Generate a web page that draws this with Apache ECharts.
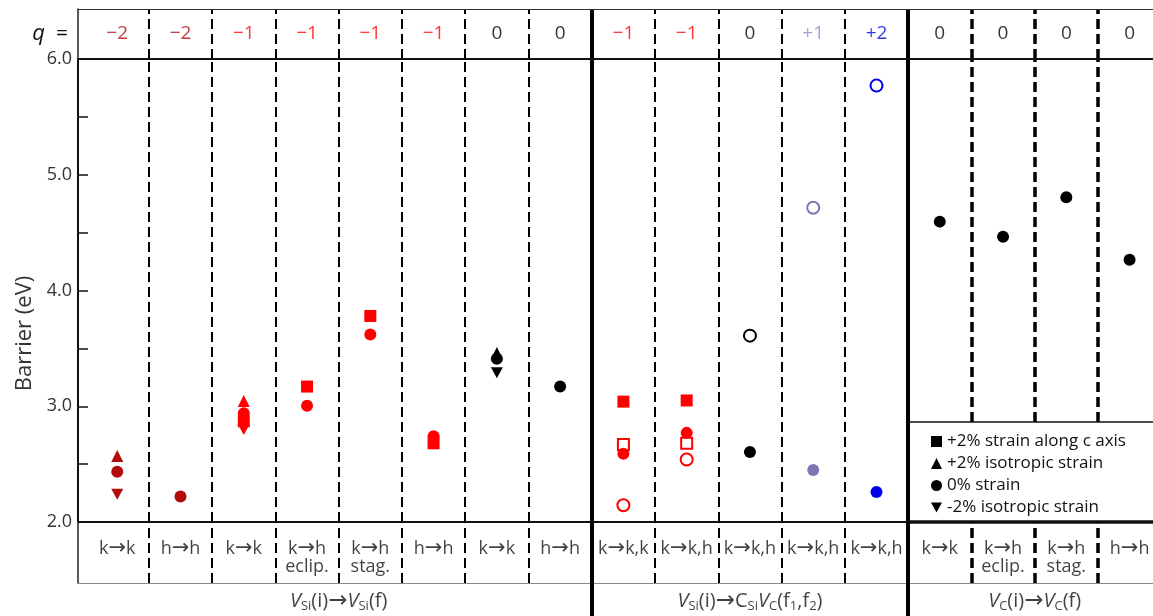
<!DOCTYPE html>
<html>
<head>
<meta charset="utf-8">
<title>Barrier</title>
<script src="https://cdn.jsdelivr.net/npm/echarts@6/dist/echarts.min.js"></script>
<style>
  html, body { margin: 0; padding: 0; background: #fff; }
  #main { width: 1153px; height: 616px; }
</style>
</head>
<body>
<div id="main"></div>
<script>
// one entry per column: charge state, its colour, transition label
const qLabels = ['−2', '−2', '−1', '−1', '−1', '−1', '0', '0', '−1', '−1', '0', '+1', '+2', '0', '0', '0', '0']
const colColors = ['#b30a0a', '#b30a0a', '#ff0000', '#ff0000', '#ff0000', '#ff0000', '#000', '#000',
  '#ff0000', '#ff0000', '#000', '#7f74b5', '#0000e6', '#000', '#000', '#000', '#000']
const qColors = ['#b30a0a', '#b30a0a', '#ff0000', '#ff0000', '#ff0000', '#ff0000', '#000', '#000',
  '#ff0000', '#ff0000', '#000', '#9189c4', '#0000e6', '#000', '#000', '#000', '#000']
const hopLabels = ['k{a|→}k', 'h{a|→}h', 'k{a|→}k', 'k{a|→}h\neclip.', 'k{a|→}h\nstag.', 'h{a|→}h', 'k{a|→}k', 'h{a|→}h',
  'k{a|→}k,k', 'k{a|→}k,h', 'k{a|→}k,h', 'k{a|→}k,h', 'k{a|→}k,h', 'k{a|→}k', 'k{a|→}h\neclip.', 'k{a|→}h\nstag.', 'h{a|→}h']

// groups of columns: [first, last, label]
const groups = [
  [0, 7, '{v|V}{s|Si}(i){a|→}{v|V}{s|Si}(f)'],
  [8, 12, '{v|V}{s|Si}(i){a|→}C{s|Si}{v|V}{s|C}(f{s|1},f{s|2})'],
  [13, 16, '{v|V}{s|C}(i){a|→}{v|V}{s|C}(f)']
]

// barriers (eV), [column, value]
const squareFilled = [[2, 2.87], [3, 3.17], [4, 3.78], [5, 2.68], [8, 3.04], [9, 3.05]]
const triUp = [[0, 2.57], [2, 3.045], [6, 3.46]]
const circleFilled = [[0, 2.435], [1, 2.22], [2, 2.94], [3, 3.005], [4, 3.62], [5, 2.74], [6, 3.41],
  [7, 3.17], [8, 2.59], [9, 2.77], [10, 2.605], [11, 2.45], [12, 2.26],
  [13, 4.595], [14, 4.465], [15, 4.805], [16, 4.265]]
const triDown = [[0, 2.24], [2, 2.80], [6, 3.29]]
const squareOpen = [[8, 2.67], [9, 2.68]]
const circleOpen = [[8, 2.145], [9, 2.54], [10, 3.61], [11, 4.715], [12, 5.77]]

const yTicks = [2, 3, 4, 5, 6]
const legendNames = ['+2% strain along c axis', '+2% isotropic strain', '0% strain', '-2% isotropic strain']

const FONT = '"Open Sans", "DejaVu Sans", sans-serif'
const X_MIN = -0.62
const X_MAX = 16.37
const LEGEND_TOP = 2.864
const TRI_DOWN = 'path://M0,0L10,0L5,9Z'

const groupStarts = groups.map(g => g[0])

function dividers (where) {
  const out = []
  for (let i = 0; i < qLabels.length - 1; i++) {
    const x = i + 0.5
    const thick = groupStarts.includes(i + 1)
    const last = i >= groups[2][0]
    if (where === 'group' && !thick) continue
    const lineStyle = thick
      ? { type: 'solid', width: 4, color: '#000' }
      : { type: [10, 5], width: last ? 3.5 : 2, color: '#000' }
    if (where === 'main' && last && !thick) {
      out.push([{ coord: [x, LEGEND_TOP], lineStyle }, { coord: [x, yTicks[yTicks.length - 1]] }])
    } else {
      out.push({ xAxis: x, lineStyle })
    }
  }
  return out
}

function markLines (data) {
  return { silent: true, symbol: ['none', 'none'], label: { show: false }, animation: false, data }
}

function points (arr) {
  return arr.map(([c, v]) => ({ value: [c, v], itemStyle: { color: colColors[c], opacity: 1 } }))
}

function openPoints (arr) {
  return arr.map(([c, v]) => ({
    value: [c, v],
    itemStyle: { color: 'rgba(0,0,0,0)', borderColor: colColors[c], borderWidth: 2, opacity: 1 }
  }))
}

const chart = echarts.init(document.getElementById('main'), null, { renderer: 'canvas' })

const xAxes = [0, 1, 2, 3].map(i => ({ type: 'value', gridIndex: i, min: X_MIN, max: X_MAX, show: false }))

const option = {
  animation: false,
  textStyle: { fontFamily: FONT },
  grid: [
    { left: 78, right: 0, top: 9, height: 50 },
    { left: 78, right: 0, top: 59, height: 463 },
    { left: 78, right: 0, top: 522, height: 61 },
    { left: 78, right: 0, top: 583, height: 33 }
  ],
  xAxis: xAxes,
  yAxis: [
    {
      type: 'value', gridIndex: 0, min: 0, max: 1,
      axisLine: { show: true, onZero: false, lineStyle: { color: '#222', width: 1.5 } },
      axisTick: { show: false }, axisLabel: { show: false }, splitLine: { show: false },
      name: '{i|q}  =', nameLocation: 'middle', nameRotate: 0, nameGap: 10,
      nameTextStyle: {
        align: 'right', fontSize: 21, color: '#111', fontFamily: FONT,
        rich: { i: { fontStyle: 'italic', fontSize: 22, fontFamily: FONT, color: '#111' } }
      }
    },
    {
      type: 'value', gridIndex: 1, min: yTicks[0], max: yTicks[yTicks.length - 1], interval: 1,
      axisLine: { show: true, onZero: false, lineStyle: { color: '#111', width: 2 } },
      axisTick: { show: true, inside: true, length: 10, lineStyle: { color: '#111', width: 1.5 } },
      minorTick: { show: true, splitNumber: 2, length: 10, lineStyle: { color: '#111', width: 1.5 } },
      axisLabel: { color: '#333', fontSize: 18, margin: 6, formatter: v => v.toFixed(1) },
      splitLine: { show: false },
      name: 'Barrier (eV)', nameLocation: 'middle', nameGap: 40,
      nameTextStyle: { fontSize: 22, color: '#333', fontFamily: FONT, padding: [0, 86, 0, 0] }
    },
    {
      type: 'value', gridIndex: 2, min: 0, max: 1,
      axisLine: { show: true, onZero: false, lineStyle: { color: '#222', width: 1.5 } },
      axisTick: { show: false }, axisLabel: { show: false }, splitLine: { show: false }
    },
    { type: 'value', gridIndex: 3, min: 0, max: 1, show: false }
  ],
  legend: {
    orient: 'vertical',
    left: 926,
    top: 428,
    padding: 5,
    itemWidth: 11,
    itemHeight: 11,
    itemGap: 5,
    selectedMode: false,
    textStyle: { fontSize: 17, color: '#111', fontFamily: FONT, lineHeight: 16 },
    data: [
      { name: legendNames[0], icon: 'rect' },
      { name: legendNames[1], icon: 'triangle' },
      { name: legendNames[2], icon: 'circle' },
      { name: legendNames[3], icon: TRI_DOWN }
    ]
  },
  series: [
    {
      type: 'scatter', xAxisIndex: 0, yAxisIndex: 0, symbolSize: 0, silent: true,
      data: qLabels.map((q, c) => ({
        value: [c, 0.5],
        label: { show: true, position: 'inside', formatter: q, fontSize: 19, color: qColors[c], fontFamily: FONT }
      })),
      markLine: markLines(dividers('top').concat([
        { yAxis: 1, lineStyle: { type: 'solid', width: 1.2, color: '#333' } }
      ]))
    },
    {
      name: legendNames[2], type: 'scatter', xAxisIndex: 1, yAxisIndex: 1,
      symbol: 'circle', symbolSize: 12, itemStyle: { color: '#000', opacity: 1 },
      data: points(circleFilled),
      markLine: markLines(dividers('main').concat([
        { yAxis: 6, lineStyle: { type: 'solid', width: 2, color: '#111' } },
        { yAxis: 2, lineStyle: { type: 'solid', width: 2, color: '#111' } },
        [{ coord: [12.5, LEGEND_TOP], lineStyle: { type: 'solid', width: 1.5, color: '#111' } }, { coord: [X_MAX, LEGEND_TOP] }],
        [{ coord: [12.5, 2], lineStyle: { type: 'solid', width: 3.5, color: '#111' } }, { coord: [X_MAX, 2] }]
      ]))
    },
    {
      name: legendNames[0], type: 'scatter', xAxisIndex: 1, yAxisIndex: 1,
      symbol: 'rect', symbolSize: 12, itemStyle: { color: '#000', opacity: 1 },
      data: points(squareFilled)
    },
    {
      name: legendNames[1], type: 'scatter', xAxisIndex: 1, yAxisIndex: 1,
      symbol: 'triangle', symbolSize: 12, itemStyle: { color: '#000', opacity: 1 },
      data: points(triUp)
    },
    {
      name: legendNames[3], type: 'scatter', xAxisIndex: 1, yAxisIndex: 1,
      symbol: TRI_DOWN, symbolSize: [12, 11], itemStyle: { color: '#000', opacity: 1 },
      data: points(triDown)
    },
    {
      name: 'open square', type: 'scatter', xAxisIndex: 1, yAxisIndex: 1,
      symbol: 'rect', symbolSize: 11, data: openPoints(squareOpen)
    },
    {
      name: 'open circle', type: 'scatter', xAxisIndex: 1, yAxisIndex: 1,
      symbol: 'circle', symbolSize: 12, data: openPoints(circleOpen)
    },
    {
      type: 'scatter', xAxisIndex: 2, yAxisIndex: 2, symbolSize: 0, silent: true,
      data: hopLabels.map((t, c) => ({
        value: [c, 0.71],
        label: {
          show: true, position: 'bottom', distance: 0, formatter: t,
          fontSize: 18, lineHeight: 18, color: '#111', fontFamily: FONT,
          rich: { a: { fontSize: 21, lineHeight: 18, color: '#111', fontFamily: '"DejaVu Sans", sans-serif' } }
        }
      })),
      markLine: markLines(dividers('bottom').concat([
        { yAxis: 0, lineStyle: { type: 'solid', width: 1.2, color: '#888' } }
      ]))
    },
    {
      type: 'scatter', xAxisIndex: 3, yAxisIndex: 3, symbolSize: 0, silent: true,
      data: groups.map(([a, b, t]) => ({
        value: [(a + b) / 2, 0.45],
        label: {
          show: true, position: 'inside', formatter: t, fontSize: 20, lineHeight: 24,
          color: '#111', fontFamily: FONT,
          rich: {
            v: { fontStyle: 'italic', fontSize: 20, lineHeight: 24, color: '#111', fontFamily: FONT },
            s: { fontSize: 13, lineHeight: 14, verticalAlign: 'bottom', color: '#111', fontFamily: FONT },
            a: { fontSize: 23, lineHeight: 24, color: '#111', fontFamily: '"DejaVu Sans", sans-serif' }
          }
        }
      })),
      markLine: markLines(dividers('group'))
    }
  ]
}

chart.setOption(option)
</script>
</body>
</html>
